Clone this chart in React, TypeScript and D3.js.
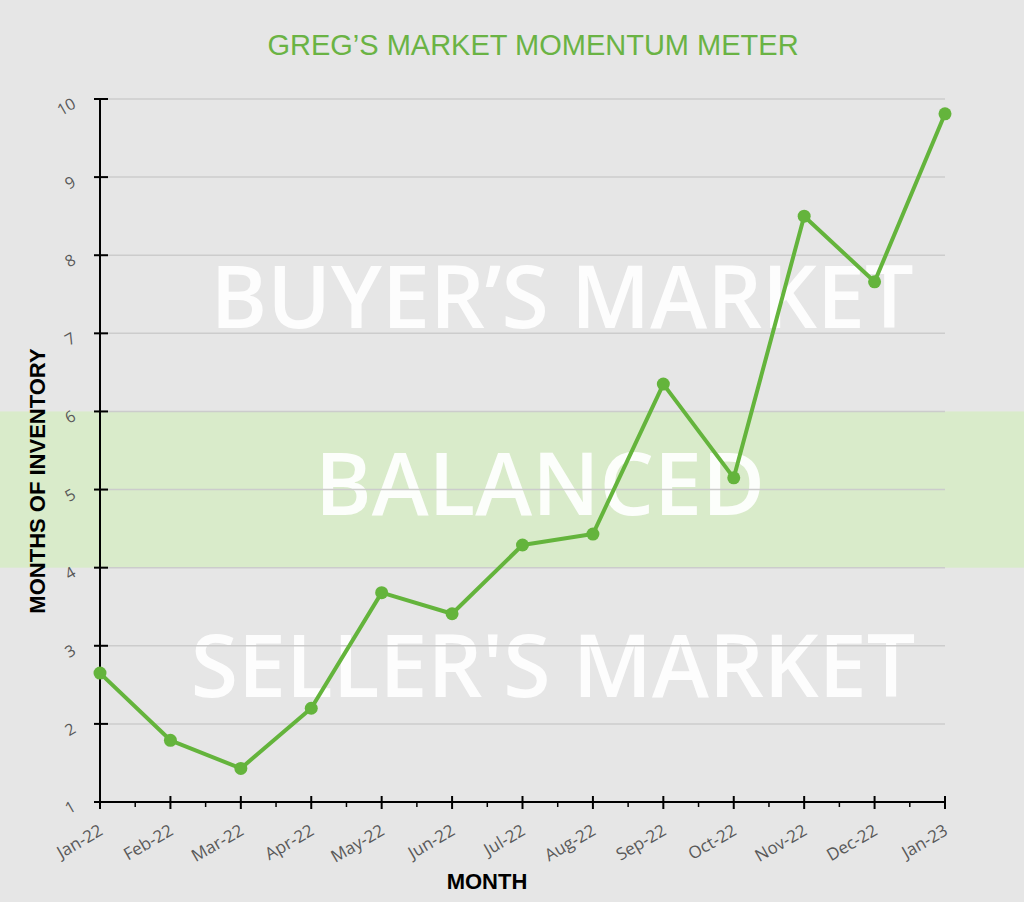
import React, { useEffect, useRef } from "react";
import * as d3 from "d3";

const months = ["Jan-22","Feb-22","Mar-22","Apr-22","May-22","Jun-22","Jul-22","Aug-22","Sep-22","Oct-22","Nov-22","Dec-22","Jan-23"];
const inventory = [2.65, 1.79, 1.43, 2.2, 3.68, 3.41, 4.29, 4.43, 6.35, 5.15, 8.5, 7.66, 9.81];
const yTicks = [1,2,3,4,5,6,7,8,9,10];
const bandRange = [4, 6];
const zoneLabels = [
  { text: "BUYER\u2019S MARKET", value: 7.07 },
  { text: "BALANCED", value: 4.67 },
  { text: "SELLER'S MARKET", value: 2.34 },
];
const title = "GREG\u2019S MARKET MOMENTUM METER";

const W = 1024, H = 902;
const M = { left: 100, right: 1024 - 945, top: 99, bottom: 902 - 802 };

export default function App() {
  const ref = useRef<SVGSVGElement>(null);
  useEffect(() => {
    document.body.style.margin = "0";
    const svg = d3.select(ref.current);
    svg.selectAll("*").remove();
    const x = d3.scalePoint<string>().domain(months).range([M.left, W - M.right]);
    const y = d3.scaleLinear().domain([1, 10]).range([H - M.bottom, M.top]);
    const green = "#64b43c";

    svg.append("rect").attr("width", W).attr("height", H).attr("fill", "#e6e6e6");
    svg.append("rect").attr("x", 0).attr("width", W)
      .attr("y", y(bandRange[1])).attr("height", y(bandRange[0]) - y(bandRange[1]))
      .attr("fill", "#d9ebca");

    svg.append("text").attr("x", 533).attr("y", 55).attr("text-anchor", "middle")
      .attr("font-family", "Liberation Sans, Arial, sans-serif").attr("font-size", 29)
      .attr("fill", "#6ab344").text(title);

    svg.selectAll(".zone").data(zoneLabels).enter().append("text")
      .attr("x", (d, i) => [562, 540, 553][i]).attr("y", d => y(d.value))
      .attr("text-anchor", "middle").attr("font-family", "Open Sans, sans-serif")
      .attr("font-weight", 600).attr("font-size", 86).attr("fill", "#ffffff")
      .attr("fill-opacity", 0.92).text(d => d.text);

    // gridlines
    svg.append("g").selectAll("line").data(yTicks.slice(1)).enter().append("line")
      .attr("x1", M.left).attr("x2", W - M.right).attr("y1", d => y(d)).attr("y2", d => y(d))
      .attr("stroke", "#cccccc").attr("stroke-width", 1.5);

    // y axis
    const ga = svg.append("g");
    ga.append("line").attr("x1", M.left).attr("x2", M.left).attr("y1", y(10)).attr("y2", y(1))
      .attr("stroke", "#000").attr("stroke-width", 2);
    ga.selectAll(".yt").data(yTicks).enter().append("line")
      .attr("x1", M.left - 6).attr("x2", M.left + 8).attr("y1", d => y(d)).attr("y2", d => y(d))
      .attr("stroke", "#000").attr("stroke-width", 2);
    ga.selectAll(".yl").data(yTicks).enter().append("text")
      .attr("transform", d => `translate(${M.left - 23},${y(d) + 8}) rotate(-30)`)
      .attr("text-anchor", "end").attr("font-family", "Open Sans, sans-serif").attr("font-size", 16)
      .attr("fill", "#595959").text(d => String(d));

    // x axis
    ga.append("line").attr("x1", M.left - 6).attr("x2", W - M.right).attr("y1", y(1)).attr("y2", y(1))
      .attr("stroke", "#000").attr("stroke-width", 2);
    ga.selectAll(".xt").data(months).enter().append("line")
      .attr("x1", d => x(d)!).attr("x2", d => x(d)!).attr("y1", y(1) - 6).attr("y2", y(1) + 7)
      .attr("stroke", "#000").attr("stroke-width", 2);
    const step = x.step();
    ga.selectAll(".xm").data(months.slice(1)).enter().append("line")
      .attr("x1", d => x(d)! - step / 2).attr("x2", d => x(d)! - step / 2)
      .attr("y1", y(1)).attr("y2", y(1) + 5).attr("stroke", "#000").attr("stroke-width", 1.5);
    ga.selectAll(".xl").data(months).enter().append("text")
      .attr("transform", d => `translate(${x(d)! + 4},${y(1) + 32}) rotate(-30)`)
      .attr("text-anchor", "end").attr("font-family", "Open Sans, sans-serif").attr("font-size", 17)
      .attr("fill", "#595959").text(d => d);

    svg.append("text").attr("x", 487).attr("y", 889).attr("text-anchor", "middle")
      .attr("font-family", "Liberation Sans, Arial, sans-serif").attr("font-weight", "bold")
      .attr("font-size", 22).attr("fill", "#000").text("MONTH");
    svg.append("text").attr("transform", `translate(45,481) rotate(-90)`).attr("text-anchor", "middle")
      .attr("font-family", "Liberation Sans, Arial, sans-serif").attr("font-weight", "bold")
      .attr("font-size", 22).attr("fill", "#000").text("MONTHS OF INVENTORY");

    const line = d3.line<number>().x((_, i) => x(months[i])!).y(d => y(d));
    svg.append("path").datum(inventory).attr("d", line).attr("fill", "none")
      .attr("stroke", green).attr("stroke-width", 4).attr("stroke-linejoin", "round");
    svg.selectAll(".pt").data(inventory).enter().append("circle")
      .attr("cx", (_, i) => x(months[i])!).attr("cy", d => y(d)).attr("r", 6.5).attr("fill", green);
  }, []);
  return <svg ref={ref} width={W} height={H} style={{ position: "absolute", left: 0, top: 0, display: "block" }} />;
}
